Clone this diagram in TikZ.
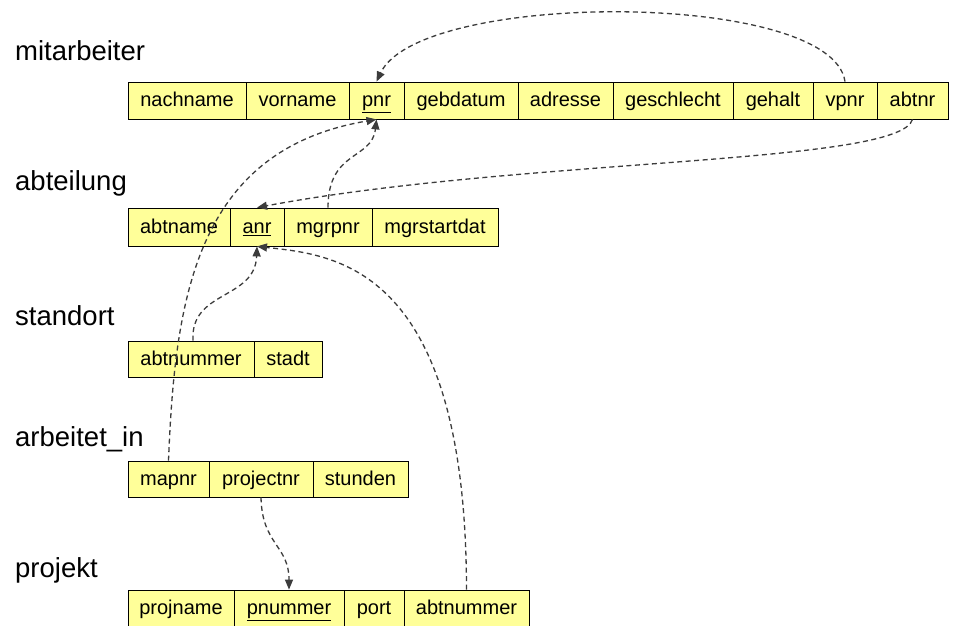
\documentclass[tikz,border=0pt]{standalone}
\usepackage{fontspec}
\setmainfont{Liberation Sans}
\usetikzlibrary{arrows.meta}
\definecolor{cellyellow}{RGB}{255,255,153}
\definecolor{linegray}{RGB}{60,60,60}
\begin{document}
\begin{tikzpicture}[x=1pt,y=-1pt,
  cell/.style={draw=black, line width=0.8pt, fill=cellyellow, inner sep=0pt,
    font=\fontsize{20}{23}\selectfont, text height=16.2pt, text depth=3.6pt, anchor=center},
  lbl/.style={inner sep=0pt, anchor=base west, font=\fontsize{27.5}{32}\selectfont},
  fk/.style={draw=linegray, line width=1.3pt, dash pattern=on 5pt off 3.5pt,
    -{Triangle[length=10pt,width=8pt]}}]
\useasboundingbox[fill=white] (0,0) rectangle (954,626);

% labels
\node[lbl] (lmit) at (15,61) {mitarbeiter};
\node[lbl] (labt) at (15,190) {abteilung};
\node[lbl] (lsta) at (15,325) {standort};
\node[lbl] (larb) at (15,446) {arbeitet\_in};
\node[lbl] (lpro) at (15,577) {projekt};

% mitarbeiter
\begin{scope}[every node/.style={cell, minimum height=37pt}]
\node[minimum width=118pt] (nachname)  at (187,100.5) {nachname};
\node[minimum width=103pt] (vorname)   at (297.5,100.5) {vorname};
\node[minimum width=55pt]  (pnr)       at (376.5,100.5) {\underline{pnr}};
\node[minimum width=114pt] (gebdatum)  at (461,100.5) {gebdatum};
\node[minimum width=95pt]  (adresse)   at (565.5,100.5) {adresse};
\node[minimum width=120pt] (geschlecht) at (673,100.5) {geschlecht};
\node[minimum width=80pt]  (gehalt)    at (773,100.5) {gehalt};
\node[minimum width=64pt]  (vpnr)      at (845,100.5) {vpnr};
\node[minimum width=71pt]  (abtnr)     at (912.5,100.5) {abtnr};
\end{scope}

% abteilung
\begin{scope}[every node/.style={cell, minimum height=38pt}]
\node[minimum width=102pt] (abtname)     at (179,227) {abtname};
\node[minimum width=54pt]  (anr)         at (257,227) {\underline{anr}};
\node[minimum width=88pt]  (mgrpnr)      at (328,227) {mgrpnr};
\node[minimum width=126pt] (mgrstartdat) at (435,227) {mgrstartdat};
\end{scope}

% standort
\begin{scope}[every node/.style={cell, minimum height=36pt}]
\node[minimum width=126pt] (sabtnummer) at (191,359) {abtnummer};
\node[minimum width=68pt]  (stadt)      at (288,359) {stadt};
\end{scope}

% arbeitet_in
\begin{scope}[every node/.style={cell, minimum height=36pt}]
\node[minimum width=81pt]  (mapnr)     at (168.5,479) {mapnr};
\node[minimum width=104pt] (projectnr) at (261,479) {projectnr};
\node[minimum width=95pt]  (stunden)   at (360.5,479) {stunden};
\end{scope}

% projekt
\begin{scope}[every node/.style={cell, minimum height=36pt}]
\node[minimum width=106pt] (projname)   at (181,608) {projname};
\node[minimum width=110pt] (pnummer)    at (289,608) {\underline{pnummer}};
\node[minimum width=60pt]  (port)       at (374,608) {port};
\node[minimum width=125pt] (pabtnummer) at (466.5,608) {abtnummer};
\end{scope}

% foreign keys
\draw[fk] (vpnr.north) .. controls (832,-10) and (420,-10) .. (pnr.north);
\draw[fk] (abtnr.south) .. controls (900,165) and (520,158) .. (anr.north);
\draw[fk] (mgrpnr.north) .. controls (328,150) and (372,160) .. (pnr.south);
\draw[fk] (mapnr.north) .. controls (175,300) and (195,150) .. (pnr.south);
\draw[fk] ([xshift=2pt]sabtnummer.north) .. controls (190,290) and (255,300) .. (anr.south);
\draw[fk] (pabtnummer.north) .. controls (466,265) and (335,255) .. (anr.south);
\draw[fk] (projectnr.south) .. controls (262,545) and (289,545) .. (pnummer.north);
\end{tikzpicture}
\end{document}
